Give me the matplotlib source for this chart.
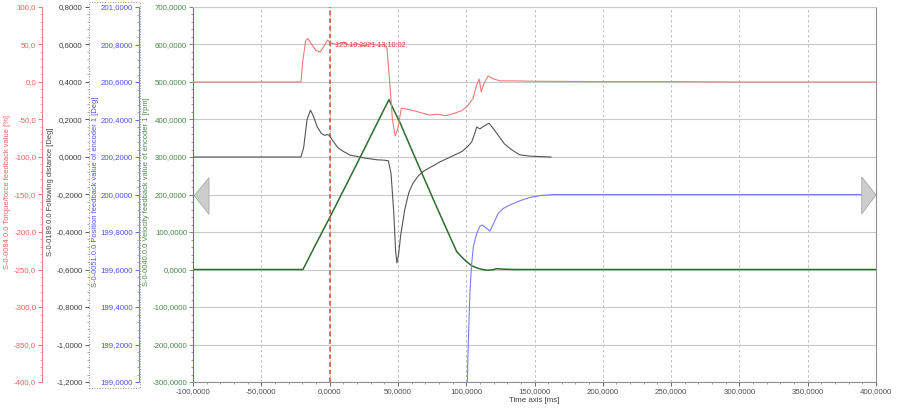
import matplotlib.pyplot as plt
from matplotlib.ticker import MultipleLocator, FuncFormatter
from matplotlib.patches import Polygon, Rectangle

plt.rcParams['font.family'] = ['Liberation Sans', 'DejaVu Sans']

# ---- data ----
time_ticks = [-100, -50, 0, 50, 100, 150, 200, 250, 300, 350, 400]

# S-0-0084 torque [%]
torque_t = [-100, -21, -19.5, -17.5, -16, -13, -10, -7, -4, -1.5, 1, 5, 10, 15, 20,
            25, 30, 35, 40, 42, 44, 46, 48, 50, 52.5, 56, 61, 67, 73, 79, 85, 91,
            97, 101, 105, 107.5, 109.5, 111, 113, 116, 120, 125, 135, 150, 200,
            250, 300, 400]
torque = [0, 0, 30, 55, 58, 50, 42, 40, 48, 56, 52, 50, 53, 49, 51,
          48, 51, 49, 50, 45, 0, -50, -72, -62, -35, -36, -38, -41, -44, -43, -45, -42,
          -38, -32, -22, -5, 4, -13, -2, 8, 4, 1.5, 1.5, 1, 0.5,
          0.5, 0, 0]

# S-0-0189 following distance [Deg]
follow_t = [-100, -21, -19, -16.5, -14, -12, -9, -6, -3.5, -1.5, 0, 2, 6, 10, 15, 20,
            25, 30, 35, 40, 43, 45, 47, 48.3, 49.3, 50.5, 52, 55, 58, 61, 65, 69,
            75, 81, 87, 93, 97, 101, 104, 106, 107.7, 110, 113, 116.7, 120, 124,
            128, 133, 139, 146, 155, 162]
follow = [0, 0, 0.05, 0.2, 0.25, 0.22, 0.16, 0.125, 0.115, 0.12, 0.115, 0.09, 0.05, 0.03, 0.01, 0.003,
          -0.005, -0.01, -0.015, -0.017, -0.02, -0.09, -0.3, -0.5, -0.565, -0.52, -0.42, -0.28, -0.19, -0.14, -0.1, -0.075,
          -0.05, -0.025, -0.005, 0.016, 0.03, 0.055, 0.08, 0.12, 0.16, 0.15, 0.165, 0.18, 0.15, 0.11,
          0.07, 0.04, 0.012, 0.005, 0.002, 0]

# S-0-0051 position feedback [Deg]
pos_t = [100.5, 101.5, 102.8, 104, 105.2, 106.5, 108.1, 110, 111.8, 114, 117.4, 120,
         123.5, 127, 132, 139.4, 147, 155, 164, 180, 400]
pos = [198.9, 199.2, 199.49, 199.63, 199.72, 199.76, 199.80, 199.83, 199.837, 199.825, 199.805, 199.845,
       199.90, 199.925, 199.944, 199.967, 199.985, 199.995, 200.0, 200.0, 200.0]

# S-0-0040 velocity [rpm]
vel_t = [-100, -19.5, -10, 0, 10, 20, 30, 40, 43.5, 47, 51.5, 60, 68.5, 77, 85.7,
         93, 97, 100, 104, 108, 112, 115, 119, 122, 127, 135, 400]
vel = [0, 0, 68000, 138000, 210000, 282000, 355000, 428000, 453000, 425000, 392000, 320000, 249000, 178000, 107000,
       48000, 32000, 22000, 10000, 4000, 0, -2000, -1000, 2000, 1000, 0, 0]

W, H = 898, 411
L, R, T, B = 193, 876, 7, 382

fig = plt.figure(figsize=(W / 100, H / 100), dpi=100)


def fx(px):
    return px / W


def fy(py):
    return 1 - py / H


ax = fig.add_axes([fx(L), fy(B), (R - L) / W, (B - T) / H])
FS = 5.7


def comma(dec, scale=1.0):
    return FuncFormatter(lambda v, _: f"{v * scale:.{dec}f}".replace('.', ','))


# main (green velocity) axis
ax.set_xlim(-100, 400)
ax.set_ylim(-300000, 700000)
ax.set_xticks(time_ticks)
ax.xaxis.set_minor_locator(MultipleLocator(10))
ax.yaxis.set_major_locator(MultipleLocator(100000))
ax.yaxis.set_minor_locator(MultipleLocator(20000))
ax.xaxis.set_major_formatter(comma(4))
ax.yaxis.set_major_formatter(comma(4, 0.001))
green = '#4a8a4a'
ax.tick_params(axis='y', which='major', length=3.2, width=0.6, pad=1, labelsize=FS, colors=green)
ax.tick_params(axis='y', which='minor', length=1.6, width=0.5, colors=green)
ax.tick_params(axis='x', which='major', length=3.0, width=0.6, pad=1.5, labelsize=FS, colors='#505050')
ax.tick_params(axis='x', which='minor', length=1.5, width=0.5, colors='#808080')
ax.spines['left'].set_color(green)
ax.spines['bottom'].set_color('#909090')
ax.spines['right'].set_color('#909090')
ax.spines['top'].set_color('#c8c8c8')
for s in ax.spines.values():
    s.set_linewidth(0.8)
ax.set_axisbelow(True)
ax.grid(axis='y', which='major', color='#c8c8c8', lw=0.8)
ax.grid(axis='x', which='major', color='#b4b4b4', ls=(0, (3, 3)), lw=0.6)
ax.set_xlabel('Time axis [ms]', fontsize=FS, color='#404040', labelpad=1.5)
ax.set_ylabel('S-0-0040.0.0 Velocity feedback value of encoder 1 [rpm]', fontsize=FS * 0.95, color=green)
ax.yaxis.set_label_coords((150 - L) / (R - L), 0.507)
ax.plot(vel_t, vel, color='#2d6e2d', lw=1.1)


def side_axis(x_px, lim, major, minor, color, fmt, label, label_px, spine_color, minor_color):
    a = ax.twinx()
    a.set_ylim(lim)
    for s in ('top', 'bottom', 'right'):
        a.spines[s].set_visible(False)
    a.spines['left'].set_visible(True)
    a.spines['left'].set_position(('axes', (x_px - L) / (R - L)))
    a.spines['left'].set_color(spine_color)
    a.spines['left'].set_linewidth(0.8)
    a.yaxis.set_ticks_position('left')
    a.yaxis.set_label_position('left')
    a.yaxis.set_major_locator(MultipleLocator(major))
    a.yaxis.set_minor_locator(MultipleLocator(minor))
    a.yaxis.set_major_formatter(fmt)
    a.tick_params(axis='y', which='major', length=3.2, width=0.6, pad=1, labelsize=FS, colors=color)
    a.tick_params(axis='y', which='minor', length=1.6, width=0.5, colors=minor_color)
    a.set_ylabel(label, fontsize=FS * 0.95, color=color)
    a.yaxis.set_label_coords((label_px - L) / (R - L), 0.507)
    return a


ax_t = side_axis(42, (-400, 100), 50, 10, '#f06060', comma(1),
                 'S-0-0084.0.0 Torque/force feedback value [%]', 11, '#f08080', '#f08080')
ax_f = side_axis(88.5, (-1.2, 0.8), 0.2, 0.04, '#404040', comma(4),
                 'S-0-0189.0.0 Following distance [Deg]', 54, 'none', '#909090')
ax_p = side_axis(139, (199.0, 201.0), 0.2, 0.04, '#5050f0', comma(4),
                 'S-0-0051.0.0 Position feedback value of encoder 1 [Deg]', 99, '#8080f0', '#8080f0')

ax_t.plot(torque_t, torque, color='#f07878', lw=0.8)
ax_f.plot(follow_t, follow, color='#555555', lw=0.8)
ax_p.plot(pos_t, pos, color='#7c7cf2', lw=0.8)

# cursor
ax_t.axvline(0, color='#e84040', ls=(0, (3, 2)), lw=1.1)
ax_t.text(4, 49, '125.10.2021 13:10:02', color='#e04040', fontsize=5.2, va='center', ha='left')

# selection frame around the position axis
fig.add_artist(Rectangle((fx(88.5), fy(388)), (140 - 88.5) / W, (388 - 2) / H, transform=fig.transFigure,
                         fill=False, ls=':', ec='#909090', lw=0.7))

# scroll arrows
for pts in ([(194.3, 195.7), (209, 177.7), (209, 214.3)], [(876, 195), (861.7, 177), (861.7, 214)]):
    fig.add_artist(Polygon([(fx(x), fy(y)) for x, y in pts], closed=True, transform=fig.transFigure,
                           fc='#cdcdcd', ec='#a8a8a8', lw=0.6))

fig.savefig('out.png', dpi=100)
